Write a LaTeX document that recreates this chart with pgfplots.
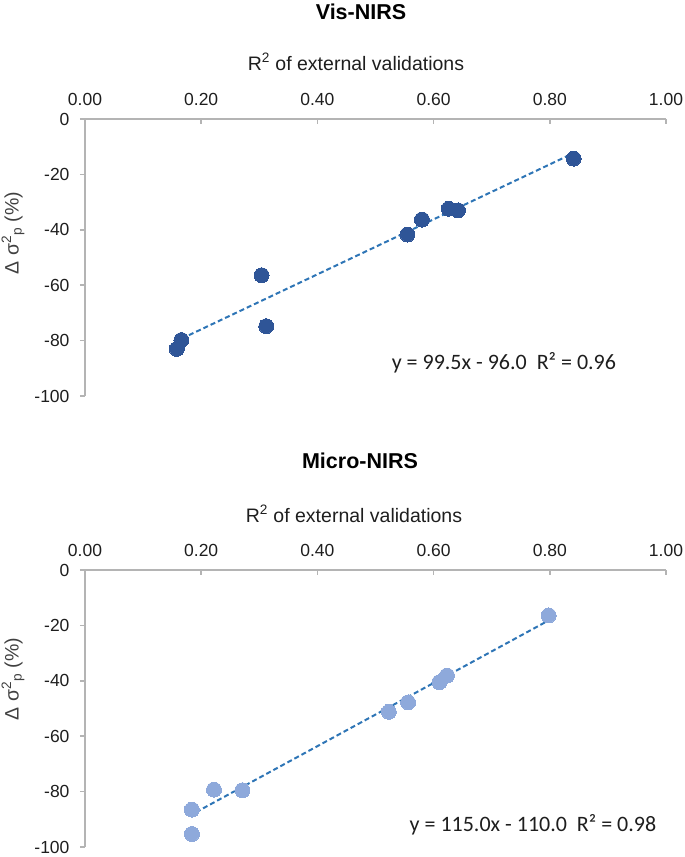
\documentclass[border=0pt]{standalone}
\usepackage{fontspec}
\setmainfont{Liberation Sans}
\newfontfamily\eqfont{Carlito}
\usepackage{pgfplots}
\pgfplotsset{compat=1.18}
\definecolor{axisgray}{HTML}{B4B4B4}
\definecolor{darkpt}{HTML}{2F5597}
\definecolor{lightpt}{HTML}{8EA9DB}
\definecolor{trend}{HTML}{2E75B6}
\definecolor{txt}{HTML}{1E1E1E}
\definecolor{lab}{HTML}{404040}
\pgfplotsset{
  myaxis/.style={
    anchor=south west,
    scale only axis, width=581pt, height=277pt,
    xmin=0, xmax=1, ymin=-100, ymax=0,
    axis x line*=top, axis y line*=left,
    axis line style={-, draw=axisgray, line width=1.5pt},
    xtick={0,0.2,0.4,0.6,0.8,1}, xticklabels={0.00,0.20,0.40,0.60,0.80,1.00},
    ytick={-100,-80,-60,-40,-20,0}, yticklabels={-100,-80,-60,-40,-20,0},
    xtick align=inside, ytick align=outside,
    major tick length=5pt,
    every tick/.style={draw=axisgray, line width=1.5pt},
    tick label style={font=\fontsize{17.5}{21}\selectfont, text=txt},
    xticklabel style={yshift=9.5pt},
    yticklabel style={xshift=-7pt},
    clip=false,
  }
}
\begin{document}
\begin{tikzpicture}
\useasboundingbox (0,0) rectangle (685pt,-857pt);
% ---------- Vis-NIRS ----------
\begin{axis}[myaxis, at={(85pt,-396pt)}]
\addplot[only marks, mark=*, mark size=7.5pt, mark options={fill=darkpt, draw=darkpt, line width=0pt}] coordinates {
(0.158,-83.0) (0.166,-79.8) (0.304,-56.4) (0.312,-74.8) (0.555,-41.7)
(0.580,-36.3) (0.626,-32.4) (0.642,-33.0) (0.841,-14.3)};
\addplot[trend, line width=2pt, dash pattern=on 5pt off 3pt] coordinates {(0.154,-80.5) (0.842,-12.2)};
\node[font=\eqfont\fontsize{22}{26}\selectfont, text=txt] at (axis cs:0.721,-88.1) {y = 99.5x - 96.0 \ R² = 0.96};
\end{axis}
\node[font=\bfseries\fontsize{21.5}{25}\selectfont] at (361pt,-12pt) {Vis-NIRS};
\node[font=\fontsize{19.5}{23}\selectfont, text=txt] at (356pt,-62pt) {R\textsuperscript{2} of external validations};
\node[rotate=90, font=\fontsize{19.5}{23}\selectfont, text=lab] at (13pt,-233pt) {Δ σ\textsuperscript{2}\textsubscript{p} (\%)};
% ---------- Micro-NIRS ----------
\begin{axis}[myaxis, at={(85pt,-847pt)}]
\addplot[only marks, mark=*, mark size=7.5pt, mark options={fill=lightpt, draw=lightpt, line width=0pt}] coordinates {
(0.184,-95.3) (0.184,-86.5) (0.222,-79.3) (0.271,-79.5) (0.523,-51.2)
(0.556,-47.8) (0.610,-40.5) (0.623,-38.1) (0.798,-16.4)};
\addplot[trend, line width=2pt, dash pattern=on 5pt off 3pt] coordinates {(0.179,-88.8) (0.798,-18.2)};
\node[font=\eqfont\fontsize{22}{26}\selectfont, text=txt] at (axis cs:0.771,-92.1) {y = 115.0x - 110.0 \ R² = 0.98};
\end{axis}
\node[font=\bfseries\fontsize{21.5}{25}\selectfont] at (360pt,-461pt) {Micro-NIRS};
\node[font=\fontsize{19.5}{23}\selectfont, text=txt] at (354pt,-514pt) {R\textsuperscript{2} of external validations};
\node[rotate=90, font=\fontsize{19.5}{23}\selectfont, text=lab] at (13pt,-679pt) {Δ σ\textsuperscript{2}\textsubscript{p} (\%)};
\end{tikzpicture}
\end{document}
